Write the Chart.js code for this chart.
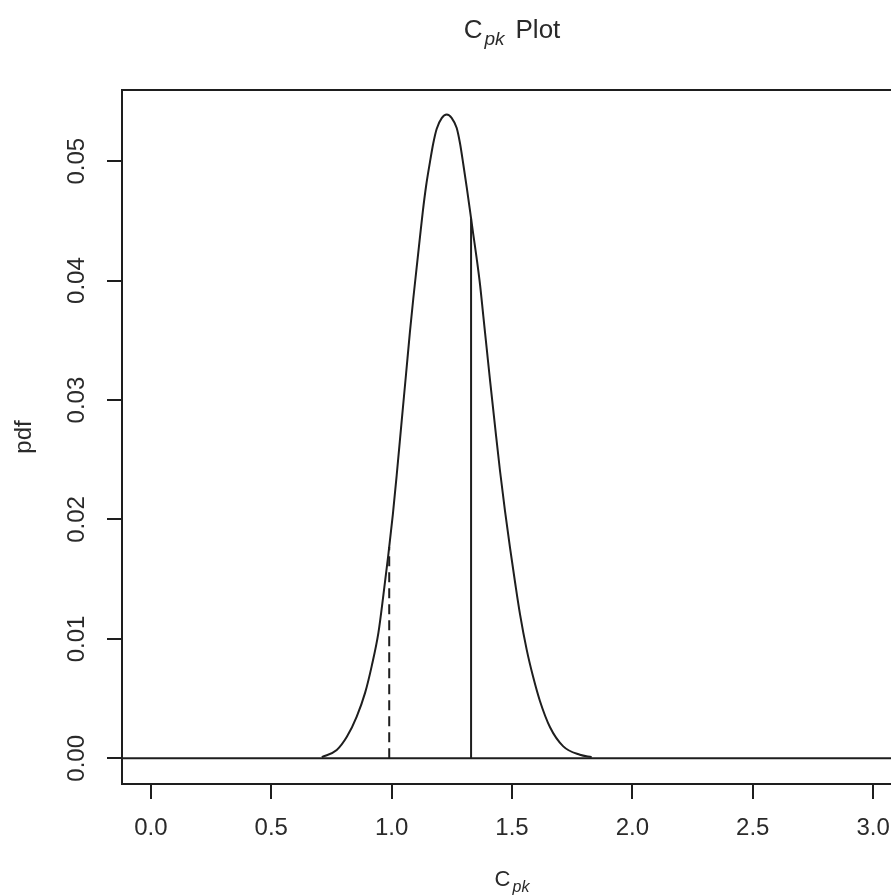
<!DOCTYPE html>
<html>
<head>
<meta charset="utf-8">
<script src="https://cdn.jsdelivr.net/npm/chart.js@4.4.1/dist/chart.umd.min.js"></script>
<style>
  html, body { margin: 0; padding: 0; background: #ffffff; overflow: hidden; }
  #wrap { position: relative; width: 910px; height: 896px; }
</style>
</head>
<body>
<div id="wrap"><canvas id="c" width="910" height="896"></canvas></div>
<script>
// ---- data ----
const cpkX = [0.710, 0.772, 0.814, 0.855, 0.890, 0.917, 0.945, 0.966, 0.986, 1.005, 1.021, 1.042, 1.060, 1.076, 1.090, 1.104, 1.118, 1.129, 1.143, 1.159, 1.173, 1.187, 1.208, 1.229, 1.250, 1.270, 1.284, 1.298, 1.312, 1.328, 1.339, 1.353, 1.367, 1.381, 1.395, 1.409, 1.429, 1.450, 1.471, 1.492, 1.513, 1.533, 1.561, 1.588, 1.616, 1.658, 1.713, 1.782, 1.831];
const pdfY = [0.0001, 0.0007, 0.0018, 0.0035, 0.0055, 0.0077, 0.0105, 0.0137, 0.0170, 0.0204, 0.0237, 0.0283, 0.0322, 0.0357, 0.0385, 0.0411, 0.0437, 0.0457, 0.0479, 0.0499, 0.0515, 0.0527, 0.0536, 0.0539, 0.0536, 0.0528, 0.0515, 0.0497, 0.0478, 0.0455, 0.0439, 0.0419, 0.0397, 0.0370, 0.0343, 0.0316, 0.0279, 0.0241, 0.0207, 0.0176, 0.0147, 0.0121, 0.0091, 0.0068, 0.0048, 0.0026, 0.0010, 0.0003, 0.0001];
const zeroLineX = [-0.12, 3.12];
const zeroLineY = [0, 0];
const targetX = [1.33, 1.33];
const targetY = [0, 0.0452];
const lowerX = [0.99, 0.99];
const lowerY = [0, 0.0177];
const xTicks = [0.0, 0.5, 1.0, 1.5, 2.0, 2.5, 3.0];
const yTicks = [0.00, 0.01, 0.02, 0.03, 0.04, 0.05];
const xRange = [-0.12, 3.12];
const yRange = [-0.00215, 0.05596];
const titleMain = 'C';
const titleSub = 'pk';
const titleRest = 'Plot';
const xTitleMain = 'C';
const xTitleSub = 'pk';
const yTitle = 'pdf';

const FONT = "'Liberation Sans', Arial, Helvetica, sans-serif";
const INK = '#1e1e1e';
const TXT = '#2a2a2a';
const pts = (xs, ys) => xs.map((x, i) => ({ x: x, y: ys[i] }));

const boxPlugin = {
  id: 'rbox',
  afterDraw(chart) {
    const { ctx, chartArea: a } = chart;
    ctx.save();
    ctx.strokeStyle = INK;
    ctx.lineWidth = 2;
    ctx.strokeRect(a.left, a.top, a.right - a.left, a.bottom - a.top);

    // title with subscript, centred on plot region
    ctx.fillStyle = TXT;
    ctx.textBaseline = 'alphabetic';
    ctx.textAlign = 'left';
    const cx = (a.left + a.right) / 2;
    ctx.font = '26px ' + FONT;
    const wC = ctx.measureText(titleMain).width;
    const wP = ctx.measureText(titleRest).width;
    ctx.font = 'italic 19px ' + FONT;
    const wS = ctx.measureText(titleSub).width;
    const gap1 = 2, gap2 = 11;
    const total = wC + gap1 + wS + gap2 + wP;
    const x0 = cx - total / 2;
    const base = 38;
    ctx.font = '26px ' + FONT;
    ctx.fillText(titleMain, x0, base);
    ctx.font = 'italic 19px ' + FONT;
    ctx.fillText(titleSub, x0 + wC + gap1, base + 7);
    ctx.font = '26px ' + FONT;
    ctx.fillText(titleRest, x0 + wC + gap1 + wS + gap2, base);

    // x-axis title with subscript
    ctx.font = '22px ' + FONT;
    const xC = ctx.measureText(xTitleMain).width;
    ctx.font = 'italic 16px ' + FONT;
    const xS = ctx.measureText(xTitleSub).width;
    const xt = xC + 2 + xS;
    const xb = 886;
    const x1 = cx - xt / 2;
    ctx.font = '22px ' + FONT;
    ctx.fillText(xTitleMain, x1, xb);
    ctx.font = 'italic 16px ' + FONT;
    ctx.fillText(xTitleSub, x1 + xC + 2, xb + 6);
    ctx.restore();
  }
};

const lineDs = (data, extra) => Object.assign({
  data: data,
  borderColor: INK,
  borderWidth: 2,
  pointRadius: 0,
  pointHoverRadius: 0,
  fill: false,
  tension: 0,
  showLine: true
}, extra || {});

new Chart(document.getElementById('c'), {
  type: 'scatter',
  data: {
    datasets: [
      lineDs(pts(zeroLineX, zeroLineY)),
      lineDs(pts(cpkX, pdfY), { cubicInterpolationMode: 'monotone' }),
      lineDs(pts(targetX, targetY)),
      lineDs(pts(lowerX, lowerY), { borderDash: [10, 6], borderWidth: 2 })
    ]
  },
  options: {
    responsive: false,
    animation: false,
    events: [],
    layout: { padding: { top: 90, right: 8, left: 0, bottom: 0 } },
    plugins: {
      legend: { display: false },
      title: { display: false },
      tooltip: { enabled: false }
    },
    scales: {
      x: {
        type: 'linear',
        min: xRange[0],
        max: xRange[1],
        afterBuildTicks: s => { s.ticks = xTicks.map(v => ({ value: v })); },
        afterFit: s => { s.height = 112; },
        border: { display: false },
        grid: { drawOnChartArea: false, drawTicks: true, tickLength: 15, color: INK, lineWidth: 2 },
        ticks: {
          padding: 15,
          color: TXT,
          font: { family: FONT, size: 24 },
          maxRotation: 0, minRotation: 0,
          callback: v => Number(v).toFixed(1)
        }
      },
      y: {
        type: 'linear',
        min: yRange[0],
        max: yRange[1],
        afterBuildTicks: s => { s.ticks = yTicks.map(v => ({ value: v })); },
        afterFit: s => { s.width = 122; },
        border: { display: false },
        grid: { drawOnChartArea: false, drawTicks: true, tickLength: 15, color: INK, lineWidth: 2 },
        ticks: {
          padding: 6,
          color: TXT,
          crossAlign: 'center',
          minRotation: 90, maxRotation: 90,
          font: { family: FONT, size: 24 },
          callback: v => Number(v).toFixed(2)
        },
        title: {
          display: true,
          text: yTitle,
          color: TXT,
          font: { family: FONT, size: 24 },
          padding: { top: 10, bottom: 0 }
        }
      }
    }
  },
  plugins: [boxPlugin]
});
</script>
</body>
</html>
